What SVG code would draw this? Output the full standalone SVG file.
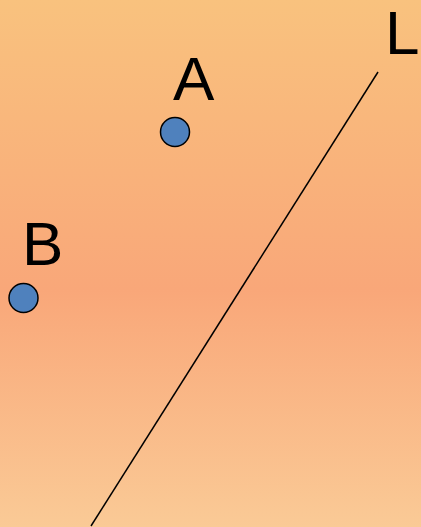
<svg xmlns="http://www.w3.org/2000/svg" width="421" height="527" viewBox="0 0 421 527">
  <defs>
    <linearGradient id="bg" x1="0" y1="0" x2="0" y2="1">
      <stop offset="0" stop-color="#F9C27E"/>
      <stop offset="0.55" stop-color="#F9A779"/>
      <stop offset="1" stop-color="#FACA96"/>
    </linearGradient>
  </defs>
  <style>
    .pt { fill: #4F81BD; stroke: #000; stroke-width: 1.5; }
    .lbl { font-family: "Liberation Sans", Arial, sans-serif; font-size: 62px; fill: #000; }
    .ln { stroke: #000; stroke-width: 1.5; fill: none; }
  </style>
  <rect x="0" y="0" width="421" height="527" fill="url(#bg)"/>
  <g id="connectors">
    <line class="ln" x1="378" y1="72" x2="91" y2="526"/>
  </g>
  <g id="nodeA">
    <circle class="pt" cx="175" cy="132" r="14.5"/>
    <text class="lbl" x="173" y="100">A</text>
  </g>
  <g id="nodeB">
    <circle class="pt" cx="23.5" cy="298" r="14.5"/>
    <text class="lbl" x="22" y="265">B</text>
  </g>
  <g id="nodeL">
    <text class="lbl" x="385" y="54">L</text>
  </g>
</svg>
